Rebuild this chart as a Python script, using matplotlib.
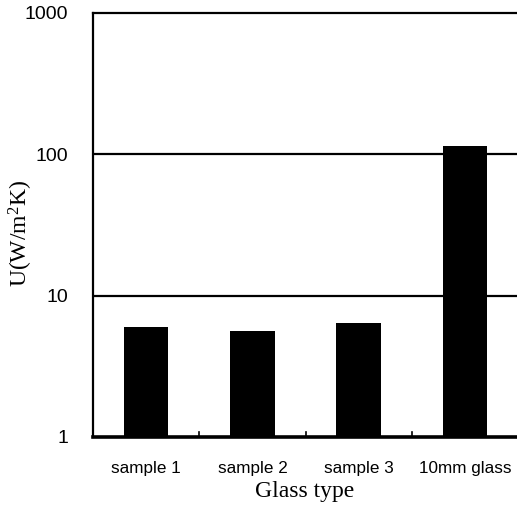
import matplotlib

matplotlib.use("Agg")
import matplotlib.pyplot as plt

glass_types = ["sample 1", "sample 2", "sample 3", "10mm glass"]
u_values = [6.0, 5.65, 6.45, 115.0]
y_ticks = [1, 10, 100, 1000]

plt.rcParams["mathtext.fontset"] = "custom"
plt.rcParams["mathtext.rm"] = "Liberation Serif"
plt.rcParams["mathtext.it"] = "Liberation Serif:italic"

fig = plt.figure(figsize=(5.17, 5.09), dpi=100)
ax = fig.add_axes([0.180, 0.1415, 0.822, 0.833])

x = range(len(glass_types))
ax.bar(x, u_values, width=0.42, color="black", zorder=3)

ax.set_yscale("log")
ax.set_ylim(1, 1000)
ax.set_xlim(-0.5, 3.5)
ax.set_yticks(y_ticks)
ax.set_yticklabels([str(v) for v in y_ticks], family="Liberation Sans", fontsize=14)
ax.minorticks_off()
ax.tick_params(axis="y", length=0, pad=18)

for v in [10, 100]:
    ax.axhline(v, color="black", linewidth=1.6, zorder=2)

ax.set_xticks(list(x))
ax.set_xticklabels(glass_types, family="Liberation Sans", fontsize=12.3)
ax.tick_params(axis="x", length=0, pad=17)
for b in [0.5, 1.5, 2.5]:
    ax.plot([b, b], [1, 1.09], color="black", linewidth=1.2, zorder=4)

for side in ["left", "top", "right"]:
    ax.spines[side].set_linewidth(1.6)
ax.spines["bottom"].set_linewidth(2.6)

ax.set_xlabel("Glass type", family="Liberation Serif", fontsize=17)
ax.xaxis.set_label_coords(0.497, -0.104)
ax.set_ylabel("U(W/m$^{2}$K)", family="Liberation Serif", fontsize=17)
ax.yaxis.set_label_coords(-0.137, 0.48)

plt.savefig("out.png", dpi=100)
plt.close()
